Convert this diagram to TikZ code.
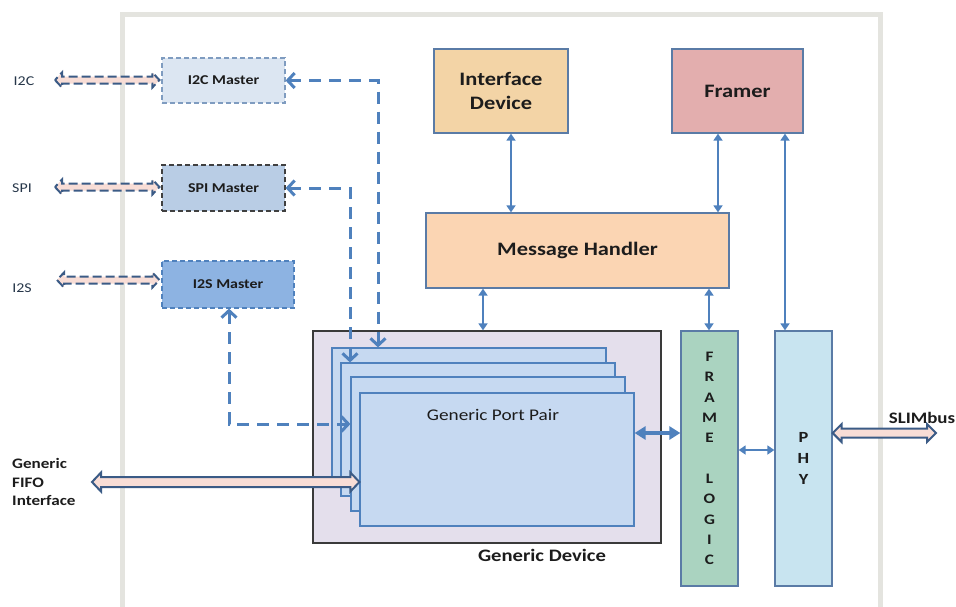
\documentclass[tikz,border=0pt]{standalone}
\usepackage{fontspec}
\setmainfont{Carlito}[FakeStretch=1.18]
\usetikzlibrary{arrows.meta,calc}

\definecolor{framegray}{HTML}{E4E4DF}
\definecolor{arrblue}{HTML}{4F81BD}
\definecolor{boxedge}{HTML}{5A7BA6}
\definecolor{txt}{HTML}{1C1C1C}
\definecolor{sidetxt}{HTML}{263649}
\definecolor{i2cfill}{HTML}{DCE6F2}
\definecolor{i2cedge}{HTML}{7F9CC0}
\definecolor{spifill}{HTML}{B9CDE5}
\definecolor{spiedge}{HTML}{404040}
\definecolor{i2sfill}{HTML}{8DB3E2}
\definecolor{i2sedge}{HTML}{4F81BD}
\definecolor{iffill}{HTML}{F3D4A6}
\definecolor{framerfill}{HTML}{E3AEAE}
\definecolor{mhfill}{HTML}{FBD5B3}
\definecolor{gdfill}{HTML}{E4DFEC}
\definecolor{gdedge}{HTML}{3A3A3A}
\definecolor{ppfill}{HTML}{C6D9F1}
\definecolor{ppedge}{HTML}{4F81BD}
\definecolor{flfill}{HTML}{AAD3C0}
\definecolor{phyfill}{HTML}{C8E4F0}
\definecolor{hollowedge}{HTML}{3B5B86}
\definecolor{hollowfill}{HTML}{F8DDD6}

% fat two-headed arrow outline between two points on one horizontal line
% #1 style, #2 left end, #3 right end, #4 head length, #5 head half width, #6 shaft half width
\newcommand\fatarrow[6]{%
  \draw[#1] (#2) -- ($(#2)+(#4,#5)$) -- ($(#2)+(#4,#6)$) -- ($(#3)+(-#4,#6)$)
    -- ($(#3)+(-#4,#5)$) -- (#3) -- ($(#3)+(-#4,-#5)$) -- ($(#3)+(-#4,-#6)$)
    -- ($(#2)+(#4,-#6)$) -- ($(#2)+(#4,-#5)$) -- cycle;}

\begin{document}
\begin{tikzpicture}[x=1pt,y=-1pt,
  blk/.style={draw=boxedge, line width=1.3pt, inner sep=0pt, align=center,
    text=txt, font=\bfseries\fontsize{19}{24}\selectfont},
  master/.style={dash pattern=on 5pt off 3pt, line width=1.2pt, inner sep=0pt, align=center,
    text=txt, font=\bfseries\fontsize{13.5}{16}\selectfont},
  ppair/.style={draw=ppedge, fill=ppfill, line width=1.2pt, inner sep=0pt,
    minimum width=274pt, minimum height=133pt},
  column/.style={draw=boxedge, line width=1.3pt, inner sep=0pt, align=center,
    minimum width=57pt, minimum height=255pt, text=txt},
  sidelab/.style={text=sidetxt, inner sep=0pt, font=\fontsize{13.5}{16}\selectfont},
  arr/.style={draw=arrblue, line width=2.4pt,
    {Triangle[length=7pt,width=9pt]}-{Triangle[length=7pt,width=9pt]}},
  bigarr/.style={draw=arrblue, line width=3.2pt,
    {Triangle[length=11pt,width=13pt]}-{Triangle[length=11pt,width=13pt]}},
  dasharr/.style={draw=arrblue, line width=3pt, dash pattern=on 12pt off 8pt,
    {Straight Barb[length=7pt,width=15pt,line width=3pt]}-{Straight Barb[length=7pt,width=15pt,line width=3pt]}},
  hollow/.style={draw=hollowedge, fill=hollowfill, line width=2pt, line join=miter},
  hollowdash/.style={hollow, dash pattern=on 9pt off 4pt},
]
\useasboundingbox (0,0) rectangle (956,606);
\clip (0,0) rectangle (956,606);

% light outer frame, open at the bottom
\draw[framegray, line width=5pt] (122,620) -- (122,14) -- (880,14) -- (880,620);

% serial masters
\node[master, draw=i2cedge, fill=i2cfill, minimum width=123pt, minimum height=45pt]
  (i2cm) at (223.5,80.5) {I2C Master};
\node[master, draw=spiedge, fill=spifill, minimum width=123pt, minimum height=46pt]
  (spim) at (223.5,188) {SPI Master};
\node[master, draw=i2sedge, fill=i2sfill, minimum width=132pt, minimum height=47pt]
  (i2sm) at (228,284.5) {I2S Master};

% top blocks
\node[blk, fill=iffill, minimum width=134pt, minimum height=84pt]
  (ifdev) at (501,91) {Interface\\Device};
\node[blk, fill=framerfill, minimum width=131pt, minimum height=84pt]
  (framer) at (737.5,91) {Framer};
\node[blk, fill=mhfill, minimum width=303pt, minimum height=75pt]
  (mh) at (577.5,250.5) {Message Handler};

% generic device with its stack of port pairs
\node[draw=gdedge, fill=gdfill, line width=1.3pt, inner sep=0pt,
  minimum width=348pt, minimum height=212pt] (gdev) at (487,437) {};
\node[ppair, minimum height=132pt] (pp1) at (469,414) {};
\node[ppair] (pp2) at (478,429.5) {};
\node[ppair, minimum height=134pt] (pp3) at (488,444) {};
\node[ppair] (pp4) at (497,459.5) {};
\node[text=txt, inner sep=0pt, font=\fontsize{16.3}{19}\selectfont]
  (pplab) at (493,415) {Generic Port Pair};
\node[text=txt, inner sep=0pt, font=\bfseries\fontsize{17.5}{20}\selectfont]
  (gdlab) at (542,555) {Generic Device};

% frame logic and physical layer columns
\node[column, fill=flfill, font=\bfseries\fontsize{14.5}{20.3}\selectfont]
  (flogic) at (709.5,458.5) {F\\R\\A\\M\\E\\[20.3pt]L\\O\\G\\I\\C};
\node[column, fill=phyfill, font=\bfseries\fontsize{15.5}{21}\selectfont]
  (phy) at (803.5,458.5) {P\\H\\Y};

% outside labels
\node[sidelab] (i2clab) at (24,81) {I2C};
\node[sidelab] (spilab) at (22,188) {SPI};
\node[sidelab] (i2slab) at (22,288) {I2S};
\node[sidelab, text=txt, anchor=west, align=left,
  font=\bfseries\fontsize{14.5}{18.5}\selectfont] (fifolab) at (12,482)
  {Generic\\FIFO\\Interface};
\node[text=txt, inner sep=0pt, font=\bfseries\fontsize{16}{18}\selectfont]
  (slimlab) at (922,418) {SLIMbus};

% solid control paths
\coordinate (xif) at (511,0);
\coordinate (xfr) at (718,0);
\coordinate (xphy) at (785,0);
\coordinate (xgd) at (483,0);
\coordinate (xfl) at (709,0);
\draw[arr] (ifdev.south -| xif) -- (mh.north -| xif);
\draw[arr] (framer.south -| xfr) -- (mh.north -| xfr);
\draw[arr] (framer.south -| xphy) -- (phy.north -| xphy);
\draw[arr] (mh.south -| xgd) -- (gdev.north -| xgd);
\draw[arr] (mh.south -| xfl) -- (flogic.north -| xfl);
\coordinate (ypp) at (0,433);
\coordinate (yfl) at (0,450);
\draw[bigarr] (pp4.east |- ypp) -- (flogic.west |- ypp);
\draw[arr] (flogic.east |- yfl) -- (phy.west |- yfl);

% dashed paths from the masters into the port pairs
\coordinate (c2) at (378,348);
\coordinate (cs) at (350,363);
\coordinate (xs) at (229,0);
\coordinate (ys) at (0,424);
\draw[dasharr] (i2cm.east) -| (pp1.north -| c2);
\draw[dasharr] (spim.east) -| (pp2.north -| cs);
\draw[dasharr] (i2sm.south -| xs) |- (pp3.west |- ys);

% hollow bus arrows
\coordinate (i2cA) at (55,80);
\coordinate (i2cB) at ([xshift=-2pt]i2cm.west |- i2cA);
\coordinate (spiA) at (55,187);
\coordinate (spiB) at ([xshift=-2pt]spim.west |- spiA);
\coordinate (i2sA) at (57,280);
\coordinate (i2sB) at ([xshift=-2pt]i2sm.west |- i2sA);
\fatarrow{hollowdash}{i2cA}{i2cB}{7}{7.5}{3.5}
\fatarrow{hollowdash}{spiA}{spiB}{7}{7.5}{3.5}
\fatarrow{hollowdash}{i2sA}{i2sB}{7}{7.5}{3.5}
\coordinate (fifoA) at (92,482);
\coordinate (fifoB) at (pp4.west |- fifoA);
\fatarrow{hollow}{fifoA}{fifoB}{9}{9.5}{5}
\coordinate (slimA) at (phy.east |- ypp);
\coordinate (slimB) at (936,433);
\fatarrow{hollow}{slimA}{slimB}{9}{9}{4.5}
\end{tikzpicture}
\end{document}
